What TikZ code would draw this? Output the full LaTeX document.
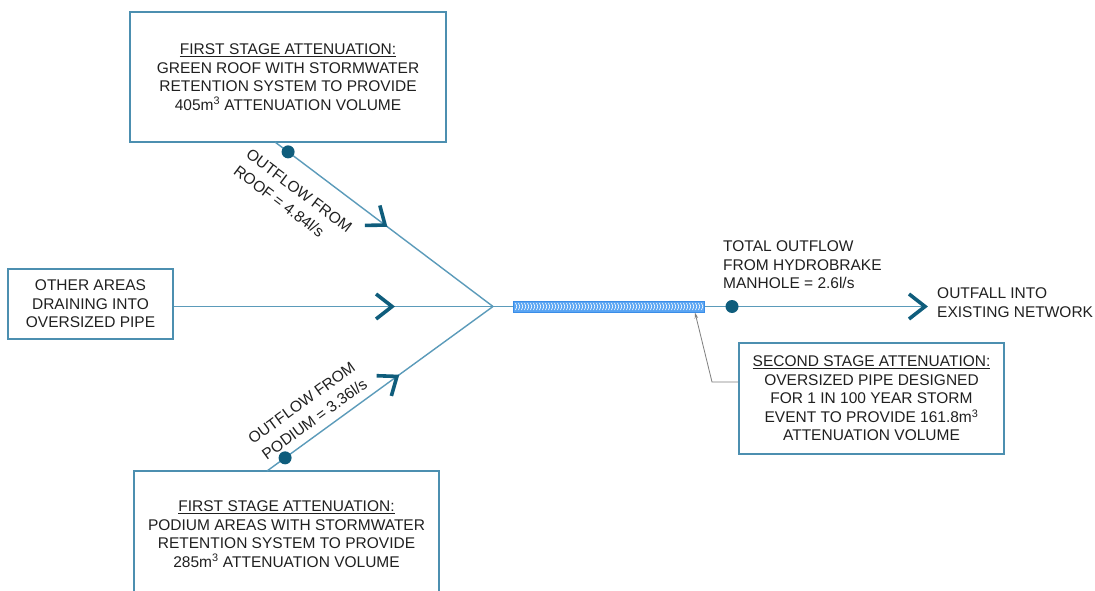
\documentclass[tikz,border=0pt]{standalone}
\usepackage{fontspec}
\setmainfont{Liberation Sans}
\usetikzlibrary{decorations.markings,arrows.meta,calc}
\definecolor{lnc}{HTML}{5B9BBA}
\definecolor{bxc}{HTML}{4C8FB0}
\definecolor{dkc}{HTML}{0F5D7C}
\definecolor{txc}{HTML}{202020}
\definecolor{pipefill}{HTML}{5AA5F3}
\definecolor{pipeedge}{HTML}{3A8DE8}
\definecolor{leadc}{HTML}{7F7F7F}
\begin{document}
\begin{tikzpicture}[x=1pt,y=-1pt,
 dbox/.style={draw=bxc, line width=1.2pt, align=center, inner sep=0pt, text=txc, font=\fontsize{15.5}{18.5}\selectfont},
 flow/.style={draw=lnc, line width=1.4pt},
 chev/.style={postaction={decorate, decoration={markings, mark=at position #1 with {\draw[dkc, line width=3.6pt, line join=miter, line cap=butt] (-16pt,12.5pt) -- (0pt,0pt) -- (-16pt,-12.5pt);}}}},
 fdot/.style={circle, fill=dkc, minimum size=13pt, inner sep=0pt},
 lbl/.style={text=txc, font=\fontsize{15.5}{18.5}\selectfont, inner sep=0pt},
 rlbl/.style={text=txc, font=\fontsize{15.5}{20.5}\selectfont, inner sep=0pt},
]
\useasboundingbox (0,0) rectangle (1095,591);
\clip (0,0) rectangle (1095,591);
\fill[white] (0,0) rectangle (1095,591);

\node[dbox, minimum width=316pt, minimum height=130pt] (roof) at (288,77) {\underline{FIRST STAGE ATTENUATION:}\\GREEN ROOF WITH STORMWATER\\RETENTION SYSTEM TO PROVIDE\\405m\textsuperscript{3} ATTENUATION VOLUME};
\node[dbox, minimum width=165pt, minimum height=70pt] (other) at (90.5,304) {OTHER AREAS\\DRAINING INTO\\OVERSIZED PIPE};
\node[dbox, minimum width=305pt, minimum height=126pt] (podium) at (286.5,534) {\underline{FIRST STAGE ATTENUATION:}\\PODIUM AREAS WITH STORMWATER\\RETENTION SYSTEM TO PROVIDE\\285m\textsuperscript{3} ATTENUATION VOLUME};
\node[dbox, minimum width=265pt, minimum height=111pt] (second) at (871.5,398.5) {\underline{SECOND STAGE ATTENUATION:}\\OVERSIZED PIPE DESIGNED\\FOR 1 IN 100 YEAR STORM\\EVENT TO PROVIDE 161.8m\textsuperscript{3}\\ATTENUATION VOLUME};

\coordinate (j) at (493,306.5);
\coordinate (r0) at (275,142);
\coordinate (p0) at (267,471);
\coordinate (oend) at (925,306.5);

\node[draw=pipeedge, fill=pipefill, line width=1pt, minimum width=191pt, minimum height=11pt, inner sep=0pt] (pipe) at (608.5,306.5) {};
\foreach \k in {0,...,62} \draw[white, line width=0.6pt] (515.5+3*\k,303) -- (516.8+3*\k,306.5) -- (515.5+3*\k,310);

\draw[flow, chev=0.505] (r0) -- (j);
\draw[flow, chev=0.684] (other.east |- j) -- (j);
\draw[flow, chev=0.575] (p0) -- (j);
\draw[flow] (j) -- (pipe.west);
\draw[flow, chev=1] (pipe.east) -- (oend);

\node[fdot] (rdot) at ($(r0)!0.06!(j)$) {};
\node[fdot] (pdot) at ($(p0)!0.08!(j)$) {};
\node[fdot] (odot) at (732,306.5) {};

\coordinate (lk) at (712,382);
\coordinate (l0) at (695,312.5);
\draw[draw=leadc, line width=0.8pt, {Stealth[length=6pt,width=3.5pt]}-] (l0) -- (lk) -- (lk -| second.west);

\node[rlbl, rotate=-37, align=left] (roofl) at (293,199) {OUTFLOW FROM\\ROOF = 4.84l/s};
\node[rlbl, rotate=36, align=right] (podl) at (307.6,411.3) {OUTFLOW FROM\\PODIUM = 3.36l/s};
\node[lbl, align=left, anchor=west] (total) at (723,265) {TOTAL OUTFLOW\\FROM HYDROBRAKE\\MANHOLE = 2.6l/s};
\node[lbl, align=left, anchor=west] (outfall) at (937,302.5) {OUTFALL INTO\\EXISTING NETWORK};
\end{tikzpicture}
\end{document}
